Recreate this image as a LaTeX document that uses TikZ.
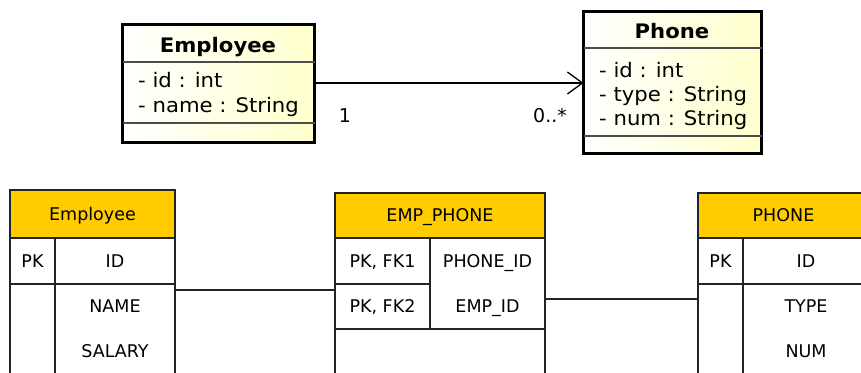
\documentclass[tikz,border=0pt]{standalone}
\usepackage{fontspec}
\setmainfont{DejaVu Sans}
\newfontfamily\umlfont[FakeStretch=1.06]{DejaVu Sans}
\usetikzlibrary{arrows.meta}

\definecolor{classfill}{RGB}{255,255,205}
\definecolor{tablehead}{RGB}{255,204,0}
\definecolor{gridline}{RGB}{35,35,35}

\tikzset{
  classbox/.style={draw=black, line width=3pt, inner sep=0pt, outer sep=0pt,
    left color=white, right color=classfill},
  classsep/.style={draw=black!70, line width=1.2pt},
  classtitle/.style={anchor=base, font=\umlfont\bfseries\fontsize{20}{23}\selectfont},
  classattr/.style={anchor=base west, inner sep=0pt, font=\umlfont\fontsize{20}{23}\selectfont},
  multlabel/.style={anchor=base, inner sep=0pt, font=\fontsize{19}{22}\selectfont},
  assoc/.style={line width=1.3pt, -{Straight Barb[length=15pt,width=22pt,line width=1.3pt]}},
  tabcell/.style={draw=gridline, line width=1.2pt, inner sep=0pt, outer sep=0pt,
    text height=12.8pt, text depth=0pt, font=\fontsize{17.5}{20}\selectfont},
  tabhead/.style={tabcell, fill=tablehead},
  tabtext/.style={inner sep=0pt, text height=12.8pt, text depth=0pt, font=\fontsize{17.5}{20}\selectfont},
  tabline/.style={draw=gridline, line width=1.2pt}
}

\begin{document}
\begin{tikzpicture}[x=1pt,y=-1pt]
  \useasboundingbox (0,0) rectangle (861,372);
  \clip (0,0) rectangle (861,372);

  % class diagram
  \node[classbox, minimum width=192pt, minimum height=118pt] (empclass) at (218.5,83) {};
  \draw[classsep] (empclass.west |- 0,62) -- (empclass.east |- 0,62);
  \draw[classsep] (empclass.west |- 0,123) -- (empclass.east |- 0,123);
  \node[classtitle] (emptitle) at (218,52) {Employee};
  \foreach \t [count=\i] in {- id : int, - name : String}
    \node[classattr] (empattr\i) at (138,62+25*\i) {\t};

  \node[classbox, minimum width=178pt, minimum height=142pt] (phoneclass) at (672.5,82.5) {};
  \draw[classsep] (phoneclass.west |- 0,48) -- (phoneclass.east |- 0,48);
  \draw[classsep] (phoneclass.west |- 0,136) -- (phoneclass.east |- 0,136);
  \node[classtitle] (phonetitle) at (672,38) {Phone};
  \foreach \t [count=\i] in {- id : int, - type : String, - num : String}
    \node[classattr] (phoneattr\i) at (599,53+24*\i) {\t};

  \draw[assoc] (empclass.east) -- (empclass.east -| phoneclass.west);
  \node[multlabel] (multone) at (345,122) {1};
  \node[multlabel] (multmany) at (550,122) {0..*};

  % tables
  \node[tabhead, minimum width=165pt, minimum height=48pt, anchor=north west] (emphead) at (10,190) {Employee};
  \node[tabcell, minimum width=45pt, minimum height=46pt, anchor=north west] (emppk) at (emphead.south west) {PK};
  \node[tabcell, minimum width=120pt, minimum height=46pt, anchor=north west] (empid) at (emppk.north east) {ID};
  \node[tabcell, minimum width=45pt, minimum height=100pt, anchor=north west] (empbodyl) at (emppk.south west) {};
  \node[tabcell, minimum width=120pt, minimum height=100pt, anchor=north west] (empbodyr) at (emppk.south east) {};
  \node[tabtext] (empname) at (empbodyr.north |- 0,306) {NAME};
  \node[tabtext] (empsalary) at (empbodyr.north |- 0,351) {SALARY};

  \node[tabhead, minimum width=210pt, minimum height=45pt, anchor=north west] (ephead) at (335,193) {EMP\_PHONE};
  \node[tabcell, minimum width=95pt, minimum height=46pt, anchor=north west] (epfk1) at (ephead.south west) {PK, FK1};
  \node[tabcell, minimum width=95pt, minimum height=45pt, anchor=north west] (epfk2) at (epfk1.south west) {PK, FK2};
  \node[tabcell, minimum width=115pt, minimum height=91pt, anchor=north west] (epcols) at (epfk1.north east) {};
  \node[tabtext] (epphoneid) at (epcols.north |- 0,261) {PHONE\_ID};
  \node[tabtext] (epempid) at (epcols.north |- 0,306) {EMP\_ID};
  \node[tabcell, minimum width=210pt, minimum height=60pt, anchor=north west] (epbody) at (epfk2.south west) {};

  \node[tabhead, minimum width=171pt, minimum height=45pt, anchor=north west] (phhead) at (698,193) {PHONE};
  \node[tabcell, minimum width=45pt, minimum height=46pt, anchor=north west] (phpk) at (phhead.south west) {PK};
  \node[tabcell, minimum width=126pt, minimum height=46pt, anchor=north west] (phid) at (phpk.north east) {ID};
  \node[tabcell, minimum width=45pt, minimum height=100pt, anchor=north west] (phbodyl) at (phpk.south west) {};
  \node[tabcell, minimum width=126pt, minimum height=100pt, anchor=north west] (phbodyr) at (phpk.south east) {};
  \node[tabtext] (phtype) at (phbodyr.north |- 0,306) {TYPE};
  \node[tabtext] (phnum) at (phbodyr.north |- 0,351) {NUM};

  \coordinate (emplink) at ([yshift=-6pt]empbodyr.north east);
  \coordinate (phlink) at ([yshift=-15pt]phbodyl.north west);
  \draw[tabline] (emplink) -- (emplink -| epfk2.west);
  \draw[tabline] (epcols.east |- phlink) -- (phlink);
\end{tikzpicture}
\end{document}
